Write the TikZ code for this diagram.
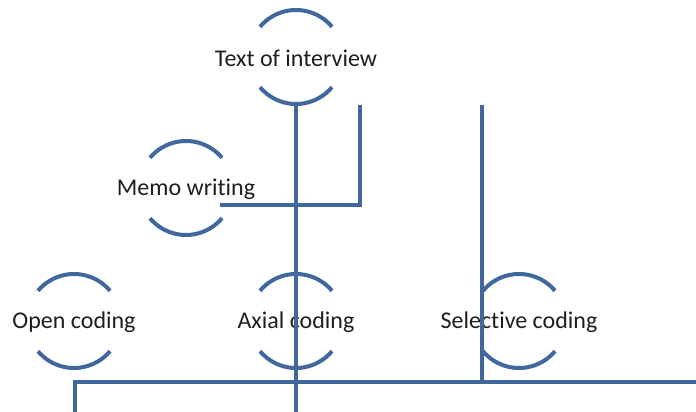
\documentclass[tikz,border=0pt]{standalone}
\usepackage{fontspec}
\setmainfont{Carlito}[Ligatures=NoCommon]
\usetikzlibrary{calc}
\definecolor{linkblue}{RGB}{64,104,156}
\definecolor{labelgrey}{RGB}{30,30,30}
\begin{document}
\begin{tikzpicture}[x=1pt,y=1pt,
  label text/.style={text=labelgrey,font=\fontsize{24}{28}\selectfont,inner sep=0pt},
  bracket/.style={draw=linkblue,line width=4pt},
  link/.style={draw=linkblue,line width=4pt}]
  \useasboundingbox (0,0) rectangle (696,412);

  % labelled stages
  \node[label text] (ti) at (296,354) {Text of interview};
  \node[label text] (mw) at (186,223) {Memo writing};
  \node[label text] (oc) at (74,90) {Open coding};
  \node[label text] (ac) at (296,90) {Axial coding};
  \node[label text] (sc) at (519,90) {Selective coding};

  % open circle around each label: an upper and a lower arc
  \foreach \n in {ti,mw,oc,ac,sc}{
    \draw[bracket] ($(\n.center)+(0,1)+(40:47)$) arc[start angle=40,end angle=140,radius=47];
    \draw[bracket] ($(\n.center)+(0,1)+(220:47)$) arc[start angle=220,end angle=320,radius=47];
  }

  % connector end points
  \coordinate (tiBottom) at ($(ti.center)+(0,-47)$);
  \coordinate (trunkEnd) at (296,0);
  \coordinate (memoStart) at (220,207);
  \coordinate (memoCorner) at (360,207);
  \coordinate (memoTop) at (360,307);
  \coordinate (baseLeftEnd) at (75,0);
  \coordinate (baseLeft) at (75,30);
  \coordinate (baseRight) at (696,30);
  \coordinate (selTop) at (482,307);
  \coordinate (selFoot) at (482,30);

  % connectors
  \draw[link] (tiBottom) -- (trunkEnd);
  \draw[link] (memoStart) -- (memoCorner) -- (memoTop);
  \draw[link] (baseLeftEnd) -- (baseLeft) -- (baseRight);
  \draw[link] (selTop) -- (selFoot);
\end{tikzpicture}
\end{document}
